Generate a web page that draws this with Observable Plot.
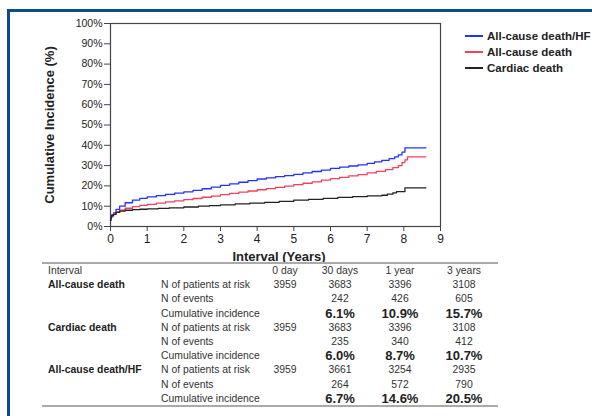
<!DOCTYPE html>
<html>
<head>
<meta charset="utf-8">
<script src="https://cdn.jsdelivr.net/npm/d3@7"></script>
<script src="https://cdn.jsdelivr.net/npm/@observablehq/plot@0.6"></script>
<style>
  html, body { margin: 0; padding: 0; background: #fff; }
  body { font-family: "Liberation Sans", Arial, sans-serif; color: #222; }
  #wrap { position: relative; width: 592px; height: 416px; overflow: hidden; }
  #borderTop { position: absolute; left: 7px; top: 9px; width: 600px; height: 3px; background: #0d4c8b; }
  #borderLeft { position: absolute; left: 7px; top: 9px; width: 3px; height: 420px; background: #0d4c8b; }
  #chart { position: absolute; left: 0; top: 0; }
  .abs { position: absolute; white-space: nowrap; }
  .ylab { font-weight: bold; font-size: 13px; color: #222; transform: translate(-50%, -50%) rotate(-90deg); }
  .xlab { font-weight: bold; font-size: 13px; color: #222; transform: translate(-50%, -50%); }
  .leg { font-weight: bold; font-size: 11.5px; color: #222; transform: translateY(-50%); }
  .legline { position: absolute; height: 2px; width: 18px; }
  .tcell { font-size: 10.4px; color: #333; transform: translateY(-50%); }
  .tb { font-weight: bold; color: #222; }
  .tc { transform: translate(-50%, -50%); }
  .big { font-size: 13px; font-weight: bold; color: #222; }
  .rule { position: absolute; height: 1.5px; background: #aaa; }
</style>
</head>
<body>
<div id="wrap">
  <div id="chart"></div>
  <div id="borderTop"></div>
  <div id="borderLeft"></div>
</div>
<script>
// ---------------- data ----------------
const seriesNames = ["All-cause death/HF", "All-cause death", "Cardiac death"];
const seriesColors = ["#2233ff", "#f2405f", "#222222"];

const hfT = [0, 0.01, 0.03, 0.082, 0.15, 0.25, 0.4, 0.6, 0.8, 1.0, 1.25, 1.5, 1.75, 2.0, 2.25, 2.5, 2.75, 3.0, 3.25, 3.5, 3.75, 4.0, 4.25, 4.5, 4.75, 5.0, 5.25, 5.5, 5.75, 6.0, 6.25, 6.5, 6.75, 7.0, 7.2, 7.4, 7.6, 7.75, 7.85, 7.95, 8.03, 8.6];
const hfV = [3.2, 4.6, 5.7, 6.7, 8.4, 10.0, 11.7, 13.0, 13.9, 14.6, 15.2, 15.8, 16.4, 17.1, 17.8, 18.6, 19.4, 20.3, 21.0, 21.8, 22.6, 23.4, 24.0, 24.6, 25.1, 25.7, 26.4, 27.1, 27.8, 28.6, 29.2, 29.8, 30.4, 31.1, 31.8, 32.6, 33.4, 34.3, 35.3, 36.6, 38.7, 38.7];

const acdT = [0, 0.01, 0.03, 0.082, 0.15, 0.25, 0.4, 0.6, 0.8, 1.0, 1.25, 1.5, 1.75, 2.0, 2.25, 2.5, 2.75, 3.0, 3.25, 3.5, 3.75, 4.0, 4.25, 4.5, 4.75, 5.0, 5.25, 5.5, 5.75, 6.0, 6.25, 6.5, 6.75, 7.0, 7.25, 7.5, 7.7, 7.85, 7.95, 8.03, 8.1, 8.6];
const acdV = [3.0, 4.2, 5.2, 6.1, 7.2, 8.0, 9.0, 9.8, 10.4, 10.9, 11.5, 12.1, 12.6, 13.2, 13.8, 14.4, 15.0, 15.7, 16.3, 16.9, 17.5, 18.1, 18.7, 19.3, 19.9, 20.6, 21.3, 22.0, 22.8, 23.6, 24.2, 24.9, 25.6, 26.4, 27.2, 28.0, 29.0, 30.0, 31.5, 32.8, 34.3, 34.3];

const cdT = [0, 0.01, 0.03, 0.082, 0.15, 0.25, 0.4, 0.6, 0.8, 1.0, 1.3, 1.6, 2.0, 2.4, 2.7, 3.0, 3.4, 3.8, 4.2, 4.6, 5.0, 5.4, 5.8, 6.2, 6.6, 7.0, 7.4, 7.55, 7.7, 7.8, 8.03, 8.6];
const cdV = [3.0, 4.3, 5.3, 6.0, 7.0, 7.6, 8.0, 8.3, 8.5, 8.7, 8.9, 9.2, 9.6, 10.0, 10.3, 10.7, 11.1, 11.5, 11.9, 12.4, 13.0, 13.4, 13.9, 14.3, 14.7, 15.1, 15.4, 15.9, 16.6, 17.2, 19.0, 19.0];

const xTicks = [0, 1, 2, 3, 4, 5, 6, 7, 8, 9];
const yTicks = [0, 10, 20, 30, 40, 50, 60, 70, 80, 90, 100];

const tableIntervals = ["0 day", "30 days", "1 year", "3 years"];
const tableGroups = ["All-cause death", "Cardiac death", "All-cause death/HF"];
const tableRowLabels = ["N of patients at risk", "N of events", "Cumulative incidence"];
const atRisk = [[3959, 3683, 3396, 3108], [3959, 3683, 3396, 3108], [3959, 3661, 3254, 2935]];
const nEvents = [["", 242, 426, 605], ["", 235, 340, 412], ["", 264, 572, 790]];
const cumInc = [["", "6.1%", "10.9%", "15.7%"], ["", "6.0%", "8.7%", "10.7%"], ["", "6.7%", "14.6%", "20.5%"]];

// ---------------- chart ----------------
const rows = [];
[[hfT, hfV], [acdT, acdV], [cdT, cdV]].forEach(([T, V], i) => {
  T.forEach((t, j) => rows.push({series: seriesNames[i], t, v: V[j]}));
});

const plot = Plot.plot({
  width: 592,
  height: 268,
  marginLeft: 110,
  marginRight: 152,
  marginTop: 23,
  marginBottom: 42,
  style: {fontFamily: "'Liberation Sans', Arial, sans-serif", color: "#222", background: "transparent"},
  x: {domain: [0, 9]},
  y: {domain: [0, 100]},
  color: {domain: seriesNames, range: seriesColors},
  marks: [
    Plot.frame({stroke: "#444", strokeWidth: 1.2}),
    Plot.axisY({ticks: yTicks, tickFormat: d => d + "%", tickSize: 6, tickPadding: 2, fontSize: 10.5, label: null, stroke: "#444", fill: "#222"}),
    Plot.axisX({ticks: xTicks, tickFormat: d => String(d), tickSize: 5, tickPadding: 3, fontSize: 12, label: null, stroke: "#444", fill: "#222"}),
    Plot.line(rows, {x: "t", y: "v", z: "series", stroke: "series", curve: "step-after", strokeWidth: 1.3})
  ]
});
document.getElementById("chart").appendChild(plot);

const wrap = document.getElementById("wrap");
function add(cls, text, left, top, extra) {
  const d = document.createElement("div");
  d.className = "abs " + cls;
  d.textContent = text;
  d.style.left = left + "px";
  d.style.top = top + "px";
  if (extra) Object.assign(d.style, extra);
  wrap.appendChild(d);
  return d;
}

// axis titles
add("ylab", "Cumulative Incidence (%)", 49, 125);
add("xlab", "Interval (Years)", 279, 256);

// legend
const legY = [36, 52, 68];
seriesNames.forEach((name, i) => {
  const l = document.createElement("div");
  l.className = "legline";
  l.style.left = "465px";
  l.style.top = (legY[i] - 1) + "px";
  l.style.background = seriesColors[i];
  wrap.appendChild(l);
  add("leg", name, 487, legY[i]);
});

// table
const r1 = document.createElement("div"); r1.className = "rule";
Object.assign(r1.style, {left: "42px", top: "262px", width: "456px"}); wrap.appendChild(r1);
const r2 = document.createElement("div"); r2.className = "rule";
Object.assign(r2.style, {left: "42px", top: "405px", width: "456px"}); wrap.appendChild(r2);

const colX = [285, 340, 400, 464];
const rowStep = 14.2;
const y0 = 270;
add("tcell", "Interval", 48, y0);
tableIntervals.forEach((s, c) => add("tcell tc", s, colX[c], y0));
tableGroups.forEach((g, gi) => {
  const base = y0 + rowStep * (1 + gi * 3);
  add("tcell tb", g, 48, base);
  tableRowLabels.forEach((lab, k) => add("tcell", lab, 161, base + k * rowStep));
  atRisk[gi].forEach((v, c) => add("tcell tc", String(v), colX[c], base));
  nEvents[gi].forEach((v, c) => { if (v !== "") add("tcell tc", String(v), colX[c], base + rowStep); });
  cumInc[gi].forEach((v, c) => { if (v !== "") add("tcell tc big", v, colX[c], base + 2 * rowStep); });
});
</script>
</body>
</html>
